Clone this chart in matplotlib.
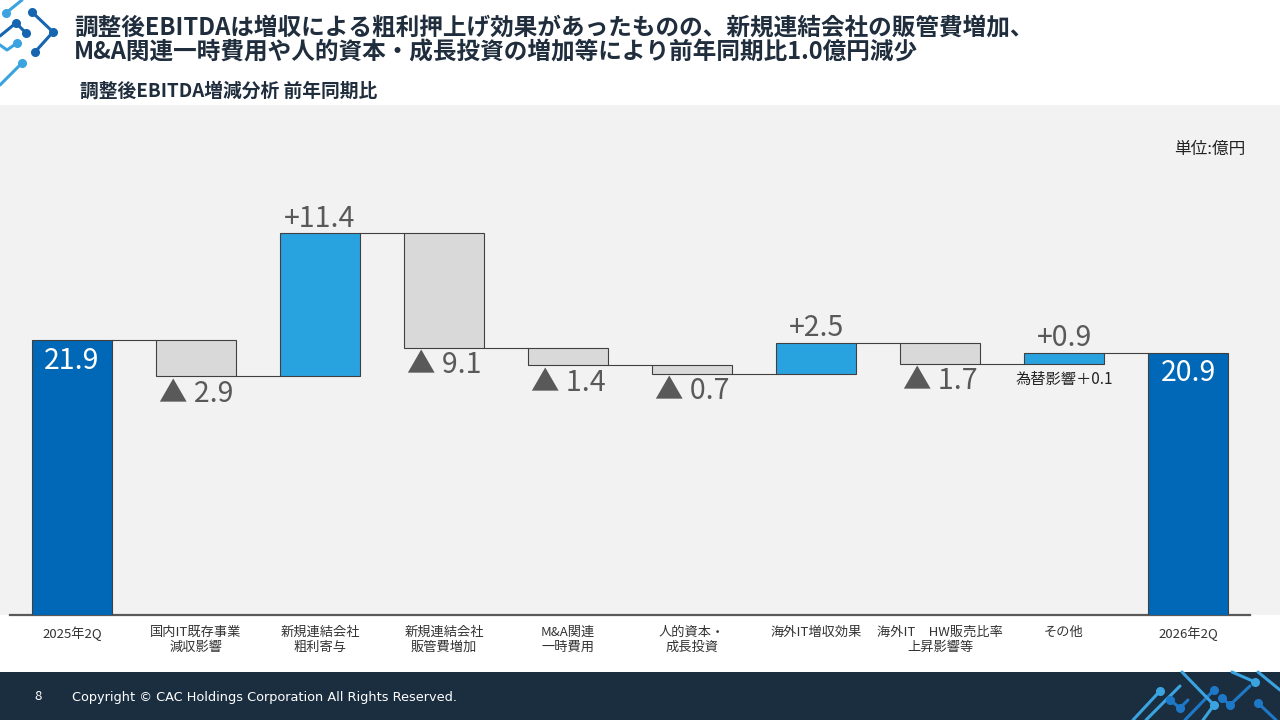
import matplotlib
matplotlib.use("Agg")
import matplotlib.pyplot as plt
import numpy as np

plt.rcParams['font.family'] = ['Noto Sans CJK JP', 'DejaVu Sans']

# ---- data ----
categories = ["2025年2Q", "国内IT既存事業\n減収影響", "新規連結会社\n粗利寄与", "新規連結会社\n販管費増加",
              "M&A関連\n一時費用", "人的資本・\n成長投資", "海外IT増収効果", "海外IT　HW販売比率\n上昇影響等",
              "その他", "2026年2Q"]
start_value = 21.9
deltas = [-2.9, 11.4, -9.1, -1.4, -0.7, 2.5, -1.7, 0.9]
end_value = 20.9
delta_labels = ["▲ 2.9", "+11.4", "▲ 9.1", "▲ 1.4", "▲ 0.7", "+2.5", "▲ 1.7", "+0.9"]
note_text = "為替影響＋0.1"

title_lines = "調整後EBITDAは増収による粗利押上げ効果があったものの、新規連結会社の販管費増加、\nM&A関連一時費用や人的資本・成長投資の増加等により前年同期比1.0億円減少"
subtitle = "調整後EBITDA増減分析 前年同期比"
unit_text = "単位:億円"
footer_text = "Copyright © CAC Holdings Corporation All Rights Reserved."
page_no = "8"

# ---- colours ----
c_total = "#0068b7"
c_pos = "#29a3df"
c_neg = "#d9d9d9"
c_edge = "#404040"
c_lbl = "#595959"
c_title = "#1f2d3d"
c_footer = "#1b2e40"

fig = plt.figure(figsize=(12.8, 7.2), dpi=100)

# background / decoration overlay in pixel coords
bg = fig.add_axes([0, 0, 1, 1], zorder=0)
bg.set_xlim(0, 1280)
bg.set_ylim(720, 0)
bg.axis("off")
bg.add_patch(plt.Rectangle((0, 105), 1280, 510, color="#f2f2f2", lw=0))
bg.add_patch(plt.Rectangle((0, 672), 1280, 48, color=c_footer, lw=0))

# logo (top-left)
lb, db = "#3aa3e0", "#1565b0"
def seg(pts, col, lw=2.2, dots=()):
    xs, ys = zip(*pts)
    bg.plot(xs, ys, color=col, lw=lw, solid_capstyle="round")
    for d in dots:
        bg.plot(*pts[d], "o", color=col, ms=5.5)
seg([(22, 0), (6, 13)], lb, dots=(1,))
seg([(32, 12), (53, 32), (35, 52)], db, dots=(0, 1, 2))
seg([(0, 36), (16, 23), (26, 33)], db, dots=(1, 2))
seg([(0, 45), (7, 50), (17, 43)], lb, dots=(2,))
seg([(22, 63), (0, 85)], lb, dots=(0,))

# footer decoration (bottom-right)
seg([(1133, 720), (1160, 691)], lb, dots=(1,))
seg([(1146, 720), (1180, 686)], "#3aa3e0")
seg([(1170, 700), (1180, 708), (1188, 700)], "#1e78c8", dots=(0, 1))
seg([(1185, 720), (1214, 690)], "#1e78c8", dots=(1,))
seg([(1182, 672), (1214, 705)], "#3aa3e0", dots=(1,))
seg([(1203, 720), (1214, 705)], "#3aa3e0")
seg([(1222, 698), (1230, 705), (1250, 686)], "#1e78c8", dots=(0, 1))
seg([(1232, 672), (1255, 682)], "#3aa3e0", dots=(1,))
seg([(1258, 672), (1280, 690)], "#3aa3e0")
seg([(1258, 703), (1276, 720)], "#1e78c8", dots=(0,))

# titles
bg.text(74, 40, title_lines, fontsize=17, fontweight="bold", color=c_title,
        va="center", ha="left", linespacing=1.05)
bg.text(80, 91, subtitle, fontsize=13.5, fontweight="bold", color=c_title,
        va="center", ha="left")
bg.text(1245, 149, unit_text, fontsize=12, color="#222222", va="center", ha="right")
bg.text(38, 697, page_no, fontsize=9.5, color="white", va="center", ha="center")
bg.text(72, 697, footer_text, fontsize=9.3, color="white", va="center", ha="left",
        family=["DejaVu Sans"])

# ---- waterfall ----
ax = fig.add_axes([10 / 1280, 105 / 720, 1240 / 1280, 510 / 720], zorder=2)
ax.patch.set_alpha(0)
n = len(categories)
x = np.arange(n)
bw = 0.645

levels = [start_value]
for d in deltas:
    levels.append(levels[-1] + d)

bottoms, heights, colors = [0], [start_value], [c_total]
for i, d in enumerate(deltas):
    prev = levels[i]
    bottoms.append(min(prev, prev + d))
    heights.append(abs(d))
    colors.append(c_pos if d > 0 else c_neg)
bottoms.append(0)
heights.append(end_value)
colors.append(c_total)

ax.bar(x, heights, bottom=bottoms, width=bw, color=colors, edgecolor=c_edge, linewidth=0.8, zorder=3)

# connectors
for i in range(n - 1):
    lvl = levels[i] if i < len(levels) else end_value
    ax.plot([x[i] + bw / 2, x[i + 1] - bw / 2], [lvl, lvl], color=c_edge, lw=0.8, zorder=2)

# labels
vfs = 20.5
ax.text(x[0], start_value - 0.45, f"{start_value}", color="white", fontsize=vfs,
        ha="center", va="top", zorder=4)
ax.text(x[-1], end_value - 0.45, f"{end_value}", color="white", fontsize=vfs,
        ha="center", va="top", zorder=4)
for i, (d, lab) in enumerate(zip(deltas, delta_labels)):
    xi = x[i + 1]
    top = bottoms[i + 1] + heights[i + 1]
    if d > 0:
        ax.text(xi, top - 0.05, lab, color=c_lbl, fontsize=vfs, ha="center", va="bottom", zorder=4)
    else:
        ax.text(xi, bottoms[i + 1] - 0.2, lab, color=c_lbl, fontsize=vfs, ha="center", va="top", zorder=4)

# note under "その他"
ax.text(x[8], bottoms[8] - 0.55, note_text, color="#222222", fontsize=11, ha="center", va="top", zorder=4)

ax.set_xlim(-0.5, n - 0.5)
ax.set_ylim(0, 510 / 12.557)
for s in ["top", "right", "left"]:
    ax.spines[s].set_visible(False)
ax.spines["bottom"].set_color("#595959")
ax.spines["bottom"].set_linewidth(1.6)
ax.set_yticks([])
ax.set_xticks(x)
ax.set_xticklabels(categories, fontsize=9.5, color="#333333", linespacing=1.15, va="top")
ax.tick_params(axis="x", length=0, pad=8)

fig.savefig("out.png", dpi=100)
